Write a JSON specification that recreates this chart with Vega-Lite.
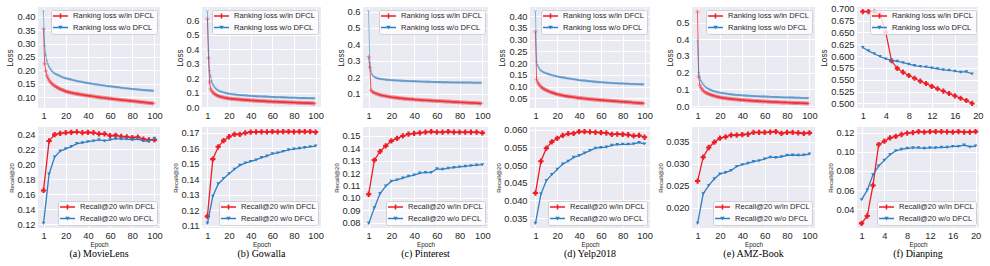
{
"$schema":"https://vega.github.io/schema/vega-lite/v6.json",
"autosize":{"type":"pad"},
"padding":{"left":5,"top":4,"right":5,"bottom":3},
"background":"white",
"config":{
"view":{"fill":"#EAEAF2","stroke":null},
"axis":{"domain":false,"ticks":false,"grid":true,"gridColor":"#ffffff","gridWidth":1,"gridOpacity":1,"labelFont":"Liberation Sans","labelFontSize":9.3,"labelColor":"#262626","labelPadding":3,"labelOverlap":false,"labelBound":false,"titleFont":"Liberation Sans","titleFontWeight":"normal","titleColor":"#262626"},
"legend":{"labelFont":"Liberation Sans","labelFontSize":7.6,"labelColor":"#262626","fillColor":"rgba(255,255,255,0.8)","strokeColor":"#d0d0d0","cornerRadius":2,"padding":2,"rowPadding":3.5,"symbolStrokeWidth":0,"symbolSize":64,"labelOffset":12,"offset":3,"symbolOpacity":1},
"title":{"font":"Liberation Serif","fontSize":10,"fontWeight":"normal","color":"#000000","orient":"bottom","anchor":"middle","frame":"group","offset":1}
},
"datasets":{
"loss":[
{"x":0,"a1":0.355,"a2":0.420,"b1":0.612,"b2":0.662,"c1":0.325,"c2":0.600,"d1":0.335,"d2":0.420,"e1":0.566,"e2":0.390},
{"x":1,"a1":0.225,"a2":0.290,"b1":0.340,"b2":0.390,"c1":0.260,"c2":0.284,"d1":0.130,"d2":0.205,"e1":0.176,"e2":0.196},
{"x":2,"a1":0.197,"a2":0.255,"b1":0.173,"b2":0.247,"c1":0.120,"c2":0.235,"d1":0.118,"d2":0.190,"e1":0.124,"e2":0.165},
{"x":3,"a1":0.180,"a2":0.235,"b1":0.125,"b2":0.210,"c1":0.113,"c2":0.215,"d1":0.110,"d2":0.180,"e1":0.110,"e2":0.150},
{"x":4,"a1":0.170,"a2":0.222,"b1":0.110,"b2":0.175,"c1":0.108,"c2":0.205,"d1":0.104,"d2":0.172,"e1":0.100,"e2":0.138},
{"x":5,"a1":0.163,"a2":0.212,"b1":0.100,"b2":0.155,"c1":0.104,"c2":0.199,"d1":0.099,"d2":0.167,"e1":0.093,"e2":0.128},
{"x":6,"a1":0.157,"a2":0.205,"b1":0.094,"b2":0.142,"c1":0.101,"c2":0.196,"d1":0.095,"d2":0.164,"e1":0.087,"e2":0.120},
{"x":7,"a1":0.152,"a2":0.199,"b1":0.089,"b2":0.132,"c1":0.099,"c2":0.193,"d1":0.092,"d2":0.161,"e1":0.082,"e2":0.113},
{"x":8,"a1":0.148,"a2":0.194,"b1":0.084,"b2":0.124,"c1":0.096,"c2":0.191,"d1":0.089,"d2":0.159,"e1":0.078,"e2":0.108},
{"x":9,"a1":0.145,"a2":0.190,"b1":0.080,"b2":0.118,"c1":0.094,"c2":0.189,"d1":0.086,"d2":0.157,"e1":0.075,"e2":0.104},
{"x":10,"a1":0.142,"a2":0.187,"b1":0.077,"b2":0.113,"c1":0.092,"c2":0.188,"d1":0.084,"d2":0.155,"e1":0.072,"e2":0.100},
{"x":11,"a1":0.139,"a2":0.185,"b1":0.074,"b2":0.109,"c1":0.090,"c2":0.187,"d1":0.082,"d2":0.153,"e1":0.069,"e2":0.097},
{"x":12,"a1":0.137,"a2":0.183,"b1":0.072,"b2":0.106,"c1":0.089,"c2":0.186,"d1":0.080,"d2":0.152,"e1":0.067,"e2":0.094},
{"x":13,"a1":0.134,"a2":0.181,"b1":0.070,"b2":0.103,"c1":0.087,"c2":0.185,"d1":0.078,"d2":0.150,"e1":0.065,"e2":0.091},
{"x":14,"a1":0.132,"a2":0.179,"b1":0.068,"b2":0.101,"c1":0.086,"c2":0.184,"d1":0.076,"d2":0.149,"e1":0.063,"e2":0.089},
{"x":15,"a1":0.130,"a2":0.177,"b1":0.066,"b2":0.099,"c1":0.085,"c2":0.183,"d1":0.075,"d2":0.148,"e1":0.061,"e2":0.087},
{"x":16,"a1":0.128,"a2":0.175,"b1":0.064,"b2":0.097,"c1":0.083,"c2":0.182,"d1":0.073,"d2":0.146,"e1":0.059,"e2":0.085},
{"x":17,"a1":0.126,"a2":0.173,"b1":0.063,"b2":0.095,"c1":0.082,"c2":0.182,"d1":0.071,"d2":0.145,"e1":0.057,"e2":0.083},
{"x":18,"a1":0.125,"a2":0.172,"b1":0.061,"b2":0.093,"c1":0.081,"c2":0.181,"d1":0.070,"d2":0.144,"e1":0.055,"e2":0.081},
{"x":19,"a1":0.123,"a2":0.170,"b1":0.060,"b2":0.091,"c1":0.079,"c2":0.181,"d1":0.068,"d2":0.143,"e1":0.054,"e2":0.080},
{"x":20,"a1":0.121,"a2":0.169,"b1":0.059,"b2":0.090,"c1":0.078,"c2":0.180,"d1":0.067,"d2":0.142,"e1":0.052,"e2":0.078},
{"x":21,"a1":0.120,"a2":0.168,"b1":0.058,"b2":0.089,"c1":0.077,"c2":0.180,"d1":0.066,"d2":0.141,"e1":0.051,"e2":0.077},
{"x":22,"a1":0.119,"a2":0.167,"b1":0.057,"b2":0.088,"c1":0.076,"c2":0.179,"d1":0.065,"d2":0.140,"e1":0.050,"e2":0.076},
{"x":23,"a1":0.118,"a2":0.166,"b1":0.056,"b2":0.087,"c1":0.076,"c2":0.179,"d1":0.064,"d2":0.139,"e1":0.049,"e2":0.075},
{"x":24,"a1":0.117,"a2":0.165,"b1":0.056,"b2":0.086,"c1":0.075,"c2":0.178,"d1":0.063,"d2":0.138,"e1":0.048,"e2":0.074},
{"x":25,"a1":0.116,"a2":0.164,"b1":0.055,"b2":0.085,"c1":0.074,"c2":0.178,"d1":0.062,"d2":0.137,"e1":0.047,"e2":0.073},
{"x":26,"a1":0.115,"a2":0.163,"b1":0.054,"b2":0.084,"c1":0.073,"c2":0.178,"d1":0.061,"d2":0.137,"e1":0.046,"e2":0.072},
{"x":27,"a1":0.114,"a2":0.162,"b1":0.054,"b2":0.083,"c1":0.072,"c2":0.177,"d1":0.060,"d2":0.136,"e1":0.045,"e2":0.071},
{"x":28,"a1":0.113,"a2":0.161,"b1":0.053,"b2":0.082,"c1":0.071,"c2":0.177,"d1":0.059,"d2":0.135,"e1":0.044,"e2":0.070},
{"x":29,"a1":0.1125,"a2":0.160,"b1":0.052,"b2":0.082,"c1":0.071,"c2":0.176,"d1":0.059,"d2":0.134,"e1":0.044,"e2":0.069},
{"x":30,"a1":0.112,"a2":0.159,"b1":0.052,"b2":0.081,"c1":0.070,"c2":0.176,"d1":0.058,"d2":0.133,"e1":0.043,"e2":0.068},
{"x":31,"a1":0.111,"a2":0.158,"b1":0.051,"b2":0.080,"c1":0.069,"c2":0.176,"d1":0.057,"d2":0.133,"e1":0.042,"e2":0.067},
{"x":32,"a1":0.110,"a2":0.157,"b1":0.051,"b2":0.080,"c1":0.069,"c2":0.175,"d1":0.056,"d2":0.132,"e1":0.041,"e2":0.067},
{"x":33,"a1":0.1095,"a2":0.156,"b1":0.050,"b2":0.079,"c1":0.068,"c2":0.175,"d1":0.056,"d2":0.131,"e1":0.041,"e2":0.066},
{"x":34,"a1":0.109,"a2":0.156,"b1":0.049,"b2":0.078,"c1":0.067,"c2":0.175,"d1":0.055,"d2":0.131,"e1":0.040,"e2":0.065},
{"x":35,"a1":0.108,"a2":0.155,"b1":0.049,"b2":0.078,"c1":0.067,"c2":0.175,"d1":0.054,"d2":0.130,"e1":0.039,"e2":0.065},
{"x":36,"a1":0.1075,"a2":0.154,"b1":0.048,"b2":0.077,"c1":0.066,"c2":0.174,"d1":0.054,"d2":0.129,"e1":0.039,"e2":0.064},
{"x":37,"a1":0.107,"a2":0.153,"b1":0.048,"b2":0.077,"c1":0.066,"c2":0.174,"d1":0.053,"d2":0.129,"e1":0.038,"e2":0.064},
{"x":38,"a1":0.106,"a2":0.152,"b1":0.047,"b2":0.076,"c1":0.065,"c2":0.174,"d1":0.052,"d2":0.128,"e1":0.037,"e2":0.063},
{"x":39,"a1":0.1055,"a2":0.152,"b1":0.047,"b2":0.076,"c1":0.065,"c2":0.173,"d1":0.052,"d2":0.127,"e1":0.037,"e2":0.063},
{"x":40,"a1":0.105,"a2":0.151,"b1":0.046,"b2":0.075,"c1":0.064,"c2":0.173,"d1":0.051,"d2":0.126,"e1":0.036,"e2":0.062},
{"x":41,"a1":0.1045,"a2":0.150,"b1":0.046,"b2":0.075,"c1":0.063,"c2":0.173,"d1":0.051,"d2":0.126,"e1":0.036,"e2":0.062},
{"x":42,"a1":0.104,"a2":0.150,"b1":0.045,"b2":0.074,"c1":0.063,"c2":0.173,"d1":0.050,"d2":0.125,"e1":0.035,"e2":0.061},
{"x":43,"a1":0.1035,"a2":0.149,"b1":0.045,"b2":0.074,"c1":0.062,"c2":0.172,"d1":0.050,"d2":0.125,"e1":0.035,"e2":0.061},
{"x":44,"a1":0.103,"a2":0.148,"b1":0.044,"b2":0.073,"c1":0.062,"c2":0.172,"d1":0.049,"d2":0.124,"e1":0.034,"e2":0.060},
{"x":45,"a1":0.102,"a2":0.148,"b1":0.044,"b2":0.073,"c1":0.061,"c2":0.172,"d1":0.049,"d2":0.124,"e1":0.034,"e2":0.060},
{"x":46,"a1":0.1015,"a2":0.147,"b1":0.043,"b2":0.072,"c1":0.061,"c2":0.171,"d1":0.048,"d2":0.123,"e1":0.033,"e2":0.060},
{"x":47,"a1":0.101,"a2":0.146,"b1":0.043,"b2":0.072,"c1":0.060,"c2":0.171,"d1":0.048,"d2":0.123,"e1":0.033,"e2":0.059},
{"x":48,"a1":0.100,"a2":0.146,"b1":0.042,"b2":0.072,"c1":0.060,"c2":0.171,"d1":0.047,"d2":0.122,"e1":0.032,"e2":0.059},
{"x":49,"a1":0.0995,"a2":0.145,"b1":0.042,"b2":0.071,"c1":0.059,"c2":0.171,"d1":0.047,"d2":0.122,"e1":0.032,"e2":0.058},
{"x":50,"a1":0.099,"a2":0.145,"b1":0.041,"b2":0.071,"c1":0.059,"c2":0.170,"d1":0.046,"d2":0.121,"e1":0.031,"e2":0.058},
{"x":51,"a1":0.0985,"a2":0.144,"b1":0.041,"b2":0.071,"c1":0.059,"c2":0.170,"d1":0.046,"d2":0.121,"e1":0.031,"e2":0.058},
{"x":52,"a1":0.098,"a2":0.143,"b1":0.041,"b2":0.070,"c1":0.058,"c2":0.170,"d1":0.046,"d2":0.120,"e1":0.031,"e2":0.057},
{"x":53,"a1":0.0975,"a2":0.143,"b1":0.040,"b2":0.070,"c1":0.058,"c2":0.170,"d1":0.045,"d2":0.120,"e1":0.030,"e2":0.057},
{"x":54,"a1":0.097,"a2":0.142,"b1":0.040,"b2":0.070,"c1":0.057,"c2":0.170,"d1":0.045,"d2":0.119,"e1":0.030,"e2":0.057},
{"x":55,"a1":0.0965,"a2":0.142,"b1":0.039,"b2":0.069,"c1":0.057,"c2":0.169,"d1":0.044,"d2":0.119,"e1":0.029,"e2":0.056},
{"x":56,"a1":0.096,"a2":0.141,"b1":0.039,"b2":0.069,"c1":0.056,"c2":0.169,"d1":0.044,"d2":0.119,"e1":0.029,"e2":0.056},
{"x":57,"a1":0.0955,"a2":0.140,"b1":0.038,"b2":0.069,"c1":0.056,"c2":0.169,"d1":0.044,"d2":0.118,"e1":0.029,"e2":0.056},
{"x":58,"a1":0.095,"a2":0.140,"b1":0.038,"b2":0.068,"c1":0.056,"c2":0.169,"d1":0.043,"d2":0.118,"e1":0.028,"e2":0.055},
{"x":59,"a1":0.0945,"a2":0.139,"b1":0.038,"b2":0.068,"c1":0.055,"c2":0.168,"d1":0.043,"d2":0.117,"e1":0.028,"e2":0.055},
{"x":60,"a1":0.094,"a2":0.139,"b1":0.037,"b2":0.068,"c1":0.055,"c2":0.168,"d1":0.042,"d2":0.117,"e1":0.027,"e2":0.055},
{"x":61,"a1":0.0935,"a2":0.138,"b1":0.037,"b2":0.067,"c1":0.055,"c2":0.168,"d1":0.042,"d2":0.117,"e1":0.027,"e2":0.055},
{"x":62,"a1":0.093,"a2":0.138,"b1":0.037,"b2":0.067,"c1":0.054,"c2":0.168,"d1":0.042,"d2":0.116,"e1":0.027,"e2":0.054},
{"x":63,"a1":0.0925,"a2":0.137,"b1":0.036,"b2":0.067,"c1":0.054,"c2":0.168,"d1":0.041,"d2":0.116,"e1":0.026,"e2":0.054},
{"x":64,"a1":0.092,"a2":0.137,"b1":0.036,"b2":0.066,"c1":0.053,"c2":0.168,"d1":0.041,"d2":0.116,"e1":0.026,"e2":0.054},
{"x":65,"a1":0.0915,"a2":0.136,"b1":0.036,"b2":0.066,"c1":0.053,"c2":0.167,"d1":0.040,"d2":0.115,"e1":0.026,"e2":0.053},
{"x":66,"a1":0.091,"a2":0.136,"b1":0.035,"b2":0.066,"c1":0.053,"c2":0.167,"d1":0.040,"d2":0.115,"e1":0.025,"e2":0.053},
{"x":67,"a1":0.0905,"a2":0.135,"b1":0.035,"b2":0.066,"c1":0.052,"c2":0.167,"d1":0.040,"d2":0.115,"e1":0.025,"e2":0.053},
{"x":68,"a1":0.090,"a2":0.135,"b1":0.035,"b2":0.065,"c1":0.052,"c2":0.167,"d1":0.039,"d2":0.114,"e1":0.025,"e2":0.053},
{"x":69,"a1":0.0895,"a2":0.134,"b1":0.034,"b2":0.065,"c1":0.051,"c2":0.167,"d1":0.039,"d2":0.114,"e1":0.024,"e2":0.052},
{"x":70,"a1":0.089,"a2":0.134,"b1":0.034,"b2":0.065,"c1":0.051,"c2":0.167,"d1":0.038,"d2":0.114,"e1":0.024,"e2":0.052},
{"x":71,"a1":0.0886,"a2":0.133,"b1":0.034,"b2":0.064,"c1":0.051,"c2":0.167,"d1":0.038,"d2":0.114,"e1":0.024,"e2":0.052},
{"x":72,"a1":0.0882,"a2":0.133,"b1":0.033,"b2":0.064,"c1":0.050,"c2":0.166,"d1":0.038,"d2":0.113,"e1":0.023,"e2":0.052},
{"x":73,"a1":0.0878,"a2":0.132,"b1":0.033,"b2":0.064,"c1":0.050,"c2":0.166,"d1":0.037,"d2":0.113,"e1":0.023,"e2":0.051},
{"x":74,"a1":0.0874,"a2":0.132,"b1":0.033,"b2":0.064,"c1":0.049,"c2":0.166,"d1":0.037,"d2":0.113,"e1":0.023,"e2":0.051},
{"x":75,"a1":0.087,"a2":0.131,"b1":0.032,"b2":0.063,"c1":0.049,"c2":0.166,"d1":0.037,"d2":0.113,"e1":0.022,"e2":0.051},
{"x":76,"a1":0.0866,"a2":0.131,"b1":0.032,"b2":0.063,"c1":0.049,"c2":0.166,"d1":0.036,"d2":0.112,"e1":0.022,"e2":0.051},
{"x":77,"a1":0.0862,"a2":0.130,"b1":0.032,"b2":0.063,"c1":0.048,"c2":0.166,"d1":0.036,"d2":0.112,"e1":0.022,"e2":0.050},
{"x":78,"a1":0.0858,"a2":0.130,"b1":0.031,"b2":0.063,"c1":0.048,"c2":0.166,"d1":0.036,"d2":0.112,"e1":0.022,"e2":0.050},
{"x":79,"a1":0.0854,"a2":0.129,"b1":0.031,"b2":0.062,"c1":0.047,"c2":0.166,"d1":0.035,"d2":0.112,"e1":0.021,"e2":0.050},
{"x":80,"a1":0.085,"a2":0.129,"b1":0.031,"b2":0.062,"c1":0.047,"c2":0.166,"d1":0.035,"d2":0.112,"e1":0.021,"e2":0.050},
{"x":81,"a1":0.0845,"a2":0.129,"b1":0.031,"b2":0.062,"c1":0.047,"c2":0.165,"d1":0.035,"d2":0.111,"e1":0.021,"e2":0.050},
{"x":82,"a1":0.084,"a2":0.128,"b1":0.030,"b2":0.062,"c1":0.046,"c2":0.165,"d1":0.034,"d2":0.111,"e1":0.020,"e2":0.049},
{"x":83,"a1":0.0835,"a2":0.128,"b1":0.030,"b2":0.061,"c1":0.046,"c2":0.165,"d1":0.034,"d2":0.111,"e1":0.020,"e2":0.049},
{"x":84,"a1":0.083,"a2":0.127,"b1":0.030,"b2":0.061,"c1":0.046,"c2":0.165,"d1":0.034,"d2":0.111,"e1":0.020,"e2":0.049},
{"x":85,"a1":0.0825,"a2":0.127,"b1":0.029,"b2":0.061,"c1":0.045,"c2":0.165,"d1":0.033,"d2":0.111,"e1":0.020,"e2":0.049},
{"x":86,"a1":0.082,"a2":0.126,"b1":0.029,"b2":0.061,"c1":0.045,"c2":0.165,"d1":0.033,"d2":0.110,"e1":0.019,"e2":0.049},
{"x":87,"a1":0.0815,"a2":0.126,"b1":0.029,"b2":0.060,"c1":0.044,"c2":0.165,"d1":0.033,"d2":0.110,"e1":0.019,"e2":0.048},
{"x":88,"a1":0.081,"a2":0.126,"b1":0.028,"b2":0.060,"c1":0.044,"c2":0.165,"d1":0.032,"d2":0.110,"e1":0.019,"e2":0.048},
{"x":89,"a1":0.0805,"a2":0.125,"b1":0.028,"b2":0.060,"c1":0.044,"c2":0.165,"d1":0.032,"d2":0.110,"e1":0.018,"e2":0.048},
{"x":90,"a1":0.080,"a2":0.125,"b1":0.028,"b2":0.060,"c1":0.043,"c2":0.165,"d1":0.031,"d2":0.110,"e1":0.018,"e2":0.048},
{"x":91,"a1":0.0796,"a2":0.125,"b1":0.028,"b2":0.060,"c1":0.043,"c2":0.164,"d1":0.031,"d2":0.109,"e1":0.018,"e2":0.048},
{"x":92,"a1":0.0792,"a2":0.124,"b1":0.027,"b2":0.059,"c1":0.043,"c2":0.164,"d1":0.031,"d2":0.109,"e1":0.018,"e2":0.047},
{"x":93,"a1":0.0787,"a2":0.124,"b1":0.027,"b2":0.059,"c1":0.042,"c2":0.164,"d1":0.030,"d2":0.109,"e1":0.017,"e2":0.047},
{"x":94,"a1":0.0783,"a2":0.124,"b1":0.027,"b2":0.059,"c1":0.042,"c2":0.164,"d1":0.030,"d2":0.109,"e1":0.017,"e2":0.047},
{"x":95,"a1":0.0778,"a2":0.123,"b1":0.026,"b2":0.059,"c1":0.041,"c2":0.164,"d1":0.030,"d2":0.109,"e1":0.017,"e2":0.047},
{"x":96,"a1":0.0774,"a2":0.123,"b1":0.026,"b2":0.058,"c1":0.041,"c2":0.164,"d1":0.029,"d2":0.108,"e1":0.017,"e2":0.047},
{"x":97,"a1":0.077,"a2":0.123,"b1":0.026,"b2":0.058,"c1":0.041,"c2":0.164,"d1":0.029,"d2":0.108,"e1":0.016,"e2":0.046},
{"x":98,"a1":0.0765,"a2":0.122,"b1":0.025,"b2":0.058,"c1":0.040,"c2":0.164,"d1":0.029,"d2":0.108,"e1":0.016,"e2":0.046},
{"x":99,"a1":0.076,"a2":0.122,"b1":0.025,"b2":0.058,"c1":0.040,"c2":0.164,"d1":0.028,"d2":0.108,"e1":0.016,"e2":0.046}
],
"dloss":[
{"x":0,"f1":0.694,"f2":0.618},{"x":1,"f1":0.694,"f2":0.611},{"x":2,"f1":0.693,"f2":0.605},{"x":3,"f1":0.688,"f2":0.599},{"x":4,"f1":0.650,"f2":0.594},
{"x":5,"f1":0.590,"f2":0.591},{"x":6,"f1":0.574,"f2":0.589},{"x":7,"f1":0.566,"f2":0.586},{"x":8,"f1":0.559,"f2":0.583},{"x":9,"f1":0.553,"f2":0.580},
{"x":10,"f1":0.547,"f2":0.578},{"x":11,"f1":0.542,"f2":0.577},{"x":12,"f1":0.536,"f2":0.575},{"x":13,"f1":0.531,"f2":0.573},{"x":14,"f1":0.526,"f2":0.571},
{"x":15,"f1":0.521,"f2":0.570},{"x":16,"f1":0.516,"f2":0.568},{"x":17,"f1":0.511,"f2":0.566},{"x":18,"f1":0.506,"f2":0.567},{"x":19,"f1":0.500,"f2":0.562}
],
"rec":[
{"x":0,"a1":0.165,"a2":0.121,"b1":0.116,"b2":0.1115,"c1":0.103,"c2":0.0795,"d1":0.0421,"d2":0.0335,"e1":0.0261,"e2":0.0165},
{"x":5,"a1":0.231,"a2":0.187,"b1":0.153,"b2":0.129,"c1":0.1305,"c2":0.092,"d1":0.0511,"d2":0.0418,"e1":0.0315,"e2":0.0232},
{"x":10,"a1":0.2395,"a2":0.2095,"b1":0.161,"b2":0.137,"c1":0.1375,"c2":0.1035,"d1":0.0548,"d2":0.0456,"e1":0.0337,"e2":0.0251},
{"x":15,"a1":0.241,"a2":0.2175,"b1":0.165,"b2":0.1405,"c1":0.142,"c2":0.1095,"d1":0.0566,"d2":0.0473,"e1":0.0349,"e2":0.0266},
{"x":20,"a1":0.242,"a2":0.2205,"b1":0.1675,"b2":0.1435,"c1":0.146,"c2":0.1135,"d1":0.0576,"d2":0.0488,"e1":0.0358,"e2":0.0277},
{"x":25,"a1":0.2425,"a2":0.2235,"b1":0.169,"b2":0.1465,"c1":0.148,"c2":0.1145,"d1":0.0584,"d2":0.0503,"e1":0.0361,"e2":0.0280},
{"x":30,"a1":0.243,"a2":0.2275,"b1":0.169,"b2":0.149,"c1":0.150,"c2":0.116,"d1":0.0589,"d2":0.0511,"e1":0.0365,"e2":0.0285},
{"x":35,"a1":0.242,"a2":0.2285,"b1":0.170,"b2":0.1505,"c1":0.1515,"c2":0.1175,"d1":0.0590,"d2":0.0522,"e1":0.0365,"e2":0.0294},
{"x":40,"a1":0.2425,"a2":0.230,"b1":0.1705,"b2":0.1515,"c1":0.152,"c2":0.1185,"d1":0.0595,"d2":0.0527,"e1":0.0366,"e2":0.0298},
{"x":45,"a1":0.242,"a2":0.231,"b1":0.1706,"b2":0.1525,"c1":0.1525,"c2":0.120,"d1":0.0595,"d2":0.0534,"e1":0.0367,"e2":0.0301},
{"x":50,"a1":0.2405,"a2":0.2325,"b1":0.1707,"b2":0.154,"c1":0.153,"c2":0.1205,"d1":0.0594,"d2":0.0541,"e1":0.0371,"e2":0.0305},
{"x":55,"a1":0.2405,"a2":0.231,"b1":0.1706,"b2":0.155,"c1":0.1535,"c2":0.1205,"d1":0.0593,"d2":0.0548,"e1":0.0371,"e2":0.0307},
{"x":60,"a1":0.238,"a2":0.2325,"b1":0.1708,"b2":0.1565,"c1":0.153,"c2":0.1235,"d1":0.0592,"d2":0.0550,"e1":0.0371,"e2":0.0311},
{"x":65,"a1":0.2385,"a2":0.234,"b1":0.1707,"b2":0.157,"c1":0.153,"c2":0.123,"d1":0.0591,"d2":0.0551,"e1":0.0372,"e2":0.0315},
{"x":70,"a1":0.237,"a2":0.2335,"b1":0.1708,"b2":0.158,"c1":0.1535,"c2":0.124,"d1":0.0587,"d2":0.0556,"e1":0.0373,"e2":0.0314},
{"x":75,"a1":0.2365,"a2":0.2335,"b1":0.1708,"b2":0.159,"c1":0.153,"c2":0.1245,"d1":0.0588,"d2":0.0558,"e1":0.0369,"e2":0.0316},
{"x":80,"a1":0.2355,"a2":0.2325,"b1":0.1707,"b2":0.1595,"c1":0.153,"c2":0.125,"d1":0.0587,"d2":0.0559,"e1":0.0371,"e2":0.0319},
{"x":85,"a1":0.236,"a2":0.2335,"b1":0.1708,"b2":0.160,"c1":0.153,"c2":0.1255,"d1":0.0586,"d2":0.0559,"e1":0.0371,"e2":0.0320},
{"x":90,"a1":0.2335,"a2":0.231,"b1":0.1708,"b2":0.1605,"c1":0.153,"c2":0.126,"d1":0.0583,"d2":0.0560,"e1":0.0370,"e2":0.0319},
{"x":95,"a1":0.2325,"a2":0.2305,"b1":0.1708,"b2":0.161,"c1":0.153,"c2":0.1265,"d1":0.0584,"d2":0.0564,"e1":0.0369,"e2":0.0320},
{"x":100,"a1":0.2325,"a2":0.2345,"b1":0.1705,"b2":0.1615,"c1":0.1525,"c2":0.1268,"d1":0.0579,"d2":0.0560,"e1":0.0370,"e2":0.0322}
],
"drec":[
{"x":0,"f1":0.0253,"f2":0.050},{"x":1,"f1":0.033,"f2":0.060},{"x":2,"f1":0.065,"f2":0.076},{"x":3,"f1":0.1075,"f2":0.085},{"x":4,"f1":0.111,"f2":0.091},
{"x":5,"f1":0.1145,"f2":0.097},{"x":6,"f1":0.116,"f2":0.101},{"x":7,"f1":0.118,"f2":0.1025},{"x":8,"f1":0.1195,"f2":0.1035},{"x":9,"f1":0.120,"f2":0.104},
{"x":10,"f1":0.121,"f2":0.104},{"x":11,"f1":0.1205,"f2":0.1035},{"x":12,"f1":0.121,"f2":0.104},{"x":13,"f1":0.121,"f2":0.104},{"x":14,"f1":0.121,"f2":0.1045},
{"x":15,"f1":0.1208,"f2":0.1045},{"x":16,"f1":0.1205,"f2":0.1055},{"x":17,"f1":0.121,"f2":0.1055},{"x":18,"f1":0.1205,"f2":0.107},{"x":19,"f1":0.1205,"f2":0.105},
{"x":20,"f1":0.121,"f2":0.106}
]
},
"columns":6,
"bounds":"flush",
"align":"each",
"spacing":{"row":19,"column":42},
"resolve":{"scale":{"color":"independent","shape":"independent"},"legend":{"color":"independent","shape":"independent"}},
"concat":[
{"width":122,"height":101,"data":{"name":"loss"},"transform":[{"fold":["a1","a2"],"as":["k","v"]}],
"encoding":{"x":{"field":"x","type":"quantitative","scale":{"domain":[-5,105],"nice":false,"zero":false},"axis":{"values":[0,20,40,60,80,100],"labelExpr":"datum.value==0?'1':datum.label","title":null}},
"y":{"field":"v","type":"quantitative","scale":{"domain":[0.0588,0.4372],"nice":false,"zero":false},"axis":{"values":[0.10,0.15,0.20,0.25,0.30,0.35,0.40],"format":".2f","title":"Loss","titleFontSize":8.3,"titlePadding":2}}},
"layer":[
{"transform":[{"filter":"datum.k=='a1'"}],"mark":{"type":"line","color":"#ee1c25","strokeWidth":1,"opacity":0.75,"clip":true}},
{"transform":[{"filter":"datum.k=='a1'"}],"mark":{"type":"point","shape":"cross","filled":true,"color":"#ee1c25","size":16,"opacity":0.35,"strokeWidth":0,"clip":true}},
{"transform":[{"filter":"datum.k=='a2'"}],"mark":{"type":"line","color":"#2f7fc1","strokeWidth":1,"opacity":0.6,"clip":true}},
{"transform":[{"filter":"datum.k=='a2'"}],"mark":{"type":"point","shape":"triangle-down","filled":true,"color":"#2f7fc1","size":9,"opacity":0.4,"strokeWidth":0,"clip":true}},
{"transform":[{"filter":"false"}],"mark":{"type":"point","filled":true,"opacity":1},
"encoding":{"color":{"field":"k","type":"nominal","scale":{"domain":["a1","a2"],"range":["#ee1c25","#2f7fc1"]},"legend":{"orient":"top-right","title":null,"labelExpr":"indexof(datum.value,'1')>0?'Ranking loss w/in DFCL':'Ranking loss w/o DFCL'"}},
"shape":{"field":"k","type":"nominal","scale":{"domain":["a1","a2"],"range":["M-1,-0.16H2.75V0.16H-1Z M0.675,-0.6H1.075V-0.2H1.475V0.2H1.075V0.6H0.675V0.2H0.275V-0.2H0.675Z","M-1,-0.16H2.75V0.16H-1Z M0.325,-0.45H1.425L0.875,0.5Z"]},"legend":{"orient":"top-right","title":null,"labelExpr":"indexof(datum.value,'1')>0?'Ranking loss w/in DFCL':'Ranking loss w/o DFCL'"}}}}
]},
{"width":119,"height":101,"data":{"name":"loss"},"transform":[{"fold":["b1","b2"],"as":["k","v"]}],
"encoding":{"x":{"field":"x","type":"quantitative","scale":{"domain":[-5,105],"nice":false,"zero":false},"axis":{"values":[0,20,40,60,80,100],"labelExpr":"datum.value==0?'1':datum.label","title":null}},
"y":{"field":"v","type":"quantitative","scale":{"domain":[-0.0069,0.6939],"nice":false,"zero":false},"axis":{"values":[0,0.1,0.2,0.3,0.4,0.5,0.6],"format":".1f","title":"Loss","titleFontSize":8.3,"titlePadding":2}}},
"layer":[
{"transform":[{"filter":"datum.k=='b1'"}],"mark":{"type":"line","color":"#ee1c25","strokeWidth":1,"opacity":0.75,"clip":true}},
{"transform":[{"filter":"datum.k=='b1'"}],"mark":{"type":"point","shape":"cross","filled":true,"color":"#ee1c25","size":16,"opacity":0.35,"strokeWidth":0,"clip":true}},
{"transform":[{"filter":"datum.k=='b2'"}],"mark":{"type":"line","color":"#2f7fc1","strokeWidth":1,"opacity":0.6,"clip":true}},
{"transform":[{"filter":"datum.k=='b2'"}],"mark":{"type":"point","shape":"triangle-down","filled":true,"color":"#2f7fc1","size":9,"opacity":0.4,"strokeWidth":0,"clip":true}},
{"transform":[{"filter":"false"}],"mark":{"type":"point","filled":true,"opacity":1},
"encoding":{"color":{"field":"k","type":"nominal","scale":{"domain":["b1","b2"],"range":["#ee1c25","#2f7fc1"]},"legend":{"orient":"top-right","title":null,"labelExpr":"indexof(datum.value,'1')>0?'Ranking loss w/in DFCL':'Ranking loss w/o DFCL'"}},
"shape":{"field":"k","type":"nominal","scale":{"domain":["b1","b2"],"range":["M-1,-0.16H2.75V0.16H-1Z M0.675,-0.6H1.075V-0.2H1.475V0.2H1.075V0.6H0.675V0.2H0.275V-0.2H0.675Z","M-1,-0.16H2.75V0.16H-1Z M0.325,-0.45H1.425L0.875,0.5Z"]},"legend":{"orient":"top-right","title":null,"labelExpr":"indexof(datum.value,'1')>0?'Ranking loss w/in DFCL':'Ranking loss w/o DFCL'"}}}}
]},
{"width":125,"height":101,"data":{"name":"loss"},"transform":[{"fold":["c1","c2"],"as":["k","v"]}],
"encoding":{"x":{"field":"x","type":"quantitative","scale":{"domain":[-5,105],"nice":false,"zero":false},"axis":{"values":[0,20,40,60,80,100],"labelExpr":"datum.value==0?'1':datum.label","title":null}},
"y":{"field":"v","type":"quantitative","scale":{"domain":[0.012,0.628],"nice":false,"zero":false},"axis":{"values":[0.1,0.2,0.3,0.4,0.5,0.6],"format":".1f","title":"Loss","titleFontSize":8.3,"titlePadding":2}}},
"layer":[
{"transform":[{"filter":"datum.k=='c1'"}],"mark":{"type":"line","color":"#ee1c25","strokeWidth":1,"opacity":0.75,"clip":true}},
{"transform":[{"filter":"datum.k=='c1'"}],"mark":{"type":"point","shape":"cross","filled":true,"color":"#ee1c25","size":16,"opacity":0.35,"strokeWidth":0,"clip":true}},
{"transform":[{"filter":"datum.k=='c2'"}],"mark":{"type":"line","color":"#2f7fc1","strokeWidth":1,"opacity":0.6,"clip":true}},
{"transform":[{"filter":"datum.k=='c2'"}],"mark":{"type":"point","shape":"triangle-down","filled":true,"color":"#2f7fc1","size":9,"opacity":0.4,"strokeWidth":0,"clip":true}},
{"transform":[{"filter":"false"}],"mark":{"type":"point","filled":true,"opacity":1},
"encoding":{"color":{"field":"k","type":"nominal","scale":{"domain":["c1","c2"],"range":["#ee1c25","#2f7fc1"]},"legend":{"orient":"top-right","title":null,"labelExpr":"indexof(datum.value,'1')>0?'Ranking loss w/in DFCL':'Ranking loss w/o DFCL'"}},
"shape":{"field":"k","type":"nominal","scale":{"domain":["c1","c2"],"range":["M-1,-0.16H2.75V0.16H-1Z M0.675,-0.6H1.075V-0.2H1.475V0.2H1.075V0.6H0.675V0.2H0.275V-0.2H0.675Z","M-1,-0.16H2.75V0.16H-1Z M0.325,-0.45H1.425L0.875,0.5Z"]},"legend":{"orient":"top-right","title":null,"labelExpr":"indexof(datum.value,'1')>0?'Ranking loss w/in DFCL':'Ranking loss w/o DFCL'"}}}}
]},
{"width":120,"height":101,"data":{"name":"loss"},"transform":[{"fold":["d1","d2"],"as":["k","v"]}],
"encoding":{"x":{"field":"x","type":"quantitative","scale":{"domain":[-5,105],"nice":false,"zero":false},"axis":{"values":[0,20,40,60,80,100],"labelExpr":"datum.value==0?'1':datum.label","title":null}},
"y":{"field":"v","type":"quantitative","scale":{"domain":[0.0084,0.4396],"nice":false,"zero":false},"axis":{"values":[0.05,0.10,0.15,0.20,0.25,0.30,0.35,0.40],"format":".2f","title":"Loss","titleFontSize":8.3,"titlePadding":2}}},
"layer":[
{"transform":[{"filter":"datum.k=='d1'"}],"mark":{"type":"line","color":"#ee1c25","strokeWidth":1,"opacity":0.75,"clip":true}},
{"transform":[{"filter":"datum.k=='d1'"}],"mark":{"type":"point","shape":"cross","filled":true,"color":"#ee1c25","size":16,"opacity":0.35,"strokeWidth":0,"clip":true}},
{"transform":[{"filter":"datum.k=='d2'"}],"mark":{"type":"line","color":"#2f7fc1","strokeWidth":1,"opacity":0.6,"clip":true}},
{"transform":[{"filter":"datum.k=='d2'"}],"mark":{"type":"point","shape":"triangle-down","filled":true,"color":"#2f7fc1","size":9,"opacity":0.4,"strokeWidth":0,"clip":true}},
{"transform":[{"filter":"false"}],"mark":{"type":"point","filled":true,"opacity":1},
"encoding":{"color":{"field":"k","type":"nominal","scale":{"domain":["d1","d2"],"range":["#ee1c25","#2f7fc1"]},"legend":{"orient":"top-right","title":null,"labelExpr":"indexof(datum.value,'1')>0?'Ranking loss w/in DFCL':'Ranking loss w/o DFCL'"}},
"shape":{"field":"k","type":"nominal","scale":{"domain":["d1","d2"],"range":["M-1,-0.16H2.75V0.16H-1Z M0.675,-0.6H1.075V-0.2H1.475V0.2H1.075V0.6H0.675V0.2H0.275V-0.2H0.675Z","M-1,-0.16H2.75V0.16H-1Z M0.325,-0.45H1.425L0.875,0.5Z"]},"legend":{"orient":"top-right","title":null,"labelExpr":"indexof(datum.value,'1')>0?'Ranking loss w/in DFCL':'Ranking loss w/o DFCL'"}}}}
]},
{"width":123,"height":101,"data":{"name":"loss"},"transform":[{"fold":["e1","e2"],"as":["k","v"]}],
"encoding":{"x":{"field":"x","type":"quantitative","scale":{"domain":[-5,105],"nice":false,"zero":false},"axis":{"values":[0,20,40,60,80,100],"labelExpr":"datum.value==0?'1':datum.label","title":null}},
"y":{"field":"v","type":"quantitative","scale":{"domain":[-0.0115,0.5935],"nice":false,"zero":false},"axis":{"values":[0,0.1,0.2,0.3,0.4,0.5],"format":".1f","title":"Loss","titleFontSize":8.3,"titlePadding":2}}},
"layer":[
{"transform":[{"filter":"datum.k=='e1'"}],"mark":{"type":"line","color":"#ee1c25","strokeWidth":1,"opacity":0.75,"clip":true}},
{"transform":[{"filter":"datum.k=='e1'"}],"mark":{"type":"point","shape":"cross","filled":true,"color":"#ee1c25","size":16,"opacity":0.35,"strokeWidth":0,"clip":true}},
{"transform":[{"filter":"datum.k=='e2'"}],"mark":{"type":"line","color":"#2f7fc1","strokeWidth":1,"opacity":0.6,"clip":true}},
{"transform":[{"filter":"datum.k=='e2'"}],"mark":{"type":"point","shape":"triangle-down","filled":true,"color":"#2f7fc1","size":9,"opacity":0.4,"strokeWidth":0,"clip":true}},
{"transform":[{"filter":"false"}],"mark":{"type":"point","filled":true,"opacity":1},
"encoding":{"color":{"field":"k","type":"nominal","scale":{"domain":["e1","e2"],"range":["#ee1c25","#2f7fc1"]},"legend":{"orient":"top-right","title":null,"labelExpr":"indexof(datum.value,'1')>0?'Ranking loss w/in DFCL':'Ranking loss w/o DFCL'"}},
"shape":{"field":"k","type":"nominal","scale":{"domain":["e1","e2"],"range":["M-1,-0.16H2.75V0.16H-1Z M0.675,-0.6H1.075V-0.2H1.475V0.2H1.075V0.6H0.675V0.2H0.275V-0.2H0.675Z","M-1,-0.16H2.75V0.16H-1Z M0.325,-0.45H1.425L0.875,0.5Z"]},"legend":{"orient":"top-right","title":null,"labelExpr":"indexof(datum.value,'1')>0?'Ranking loss w/in DFCL':'Ranking loss w/o DFCL'"}}}}
]},
{"width":122,"height":101,"data":{"name":"dloss"},"transform":[{"fold":["f1","f2"],"as":["k","v"]}],
"encoding":{"x":{"field":"x","type":"quantitative","scale":{"domain":[-1,20.2],"nice":false,"zero":false},"axis":{"values":[0,4,8,12,16,20],"labelExpr":"datum.value==0?'1':datum.label","title":null}},
"y":{"field":"v","type":"quantitative","scale":{"domain":[0.4903,0.7037],"nice":false,"zero":false},"axis":{"values":[0.5,0.525,0.55,0.575,0.6,0.625,0.65,0.675,0.7],"format":".3f","title":"Loss","titleFontSize":8.3,"titlePadding":2}}},
"layer":[
{"transform":[{"filter":"datum.k=='f1'"}],"mark":{"type":"line","color":"#ee1c25","strokeWidth":1.2,"clip":true}},
{"transform":[{"filter":"datum.k=='f1'"}],"mark":{"type":"point","shape":"cross","filled":true,"color":"#ee1c25","size":26,"opacity":1,"strokeWidth":0,"clip":true}},
{"transform":[{"filter":"datum.k=='f2'"}],"mark":{"type":"line","color":"#2f7fc1","strokeWidth":1.2,"clip":true}},
{"transform":[{"filter":"datum.k=='f2'"}],"mark":{"type":"point","shape":"triangle-down","filled":true,"color":"#2f7fc1","size":12,"opacity":1,"strokeWidth":0,"clip":true}},
{"transform":[{"filter":"false"}],"mark":{"type":"point","filled":true,"opacity":1},
"encoding":{"color":{"field":"k","type":"nominal","scale":{"domain":["f1","f2"],"range":["#ee1c25","#2f7fc1"]},"legend":{"orient":"top-right","title":null,"labelExpr":"indexof(datum.value,'1')>0?'Ranking loss w/in DFCL':'Ranking loss w/o DFCL'"}},
"shape":{"field":"k","type":"nominal","scale":{"domain":["f1","f2"],"range":["M-1,-0.16H2.75V0.16H-1Z M0.675,-0.6H1.075V-0.2H1.475V0.2H1.075V0.6H0.675V0.2H0.275V-0.2H0.675Z","M-1,-0.16H2.75V0.16H-1Z M0.325,-0.45H1.425L0.875,0.5Z"]},"legend":{"orient":"top-right","title":null,"labelExpr":"indexof(datum.value,'1')>0?'Ranking loss w/in DFCL':'Ranking loss w/o DFCL'"}}}}
]},
{"width":122,"height":101,"data":{"name":"rec"},"transform":[{"fold":["a1","a2"],"as":["k","v"]}],"title":{"text":"(a) MovieLens"},
"encoding":{"x":{"field":"x","type":"quantitative","scale":{"domain":[-5,105],"nice":false,"zero":false},"axis":{"values":[0,20,40,60,80,100],"labelExpr":"datum.value==0?'1':datum.label","title":"Epoch","titleFontSize":6.4,"titlePadding":1}},
"y":{"field":"v","type":"quantitative","scale":{"domain":[0.1149,0.2496],"nice":false,"zero":false},"axis":{"values":[0.12,0.14,0.16,0.18,0.20,0.22,0.24],"format":".2f","title":"Recall@20","titleFontSize":6,"titlePadding":2}}},
"layer":[
{"transform":[{"filter":"datum.k=='a1'"}],"mark":{"type":"line","color":"#ee1c25","strokeWidth":1.3,"clip":true}},
{"transform":[{"filter":"datum.k=='a1'"}],"mark":{"type":"point","shape":"cross","filled":true,"color":"#ee1c25","size":28,"opacity":1,"strokeWidth":0,"clip":true}},
{"transform":[{"filter":"datum.k=='a2'"}],"mark":{"type":"line","color":"#2f7fc1","strokeWidth":1.3,"clip":true}},
{"transform":[{"filter":"datum.k=='a2'"}],"mark":{"type":"point","shape":"triangle-down","filled":true,"color":"#2f7fc1","size":13,"opacity":1,"strokeWidth":0,"clip":true}},
{"transform":[{"filter":"false"}],"mark":{"type":"point","filled":true,"opacity":1},
"encoding":{"color":{"field":"k","type":"nominal","scale":{"domain":["a1","a2"],"range":["#ee1c25","#2f7fc1"]},"legend":{"orient":"bottom-right","title":null,"labelExpr":"indexof(datum.value,'1')>0?'Recall@20 w/in DFCL':'Recall@20 w/o DFCL'"}},
"shape":{"field":"k","type":"nominal","scale":{"domain":["a1","a2"],"range":["M-1,-0.16H2.75V0.16H-1Z M0.675,-0.6H1.075V-0.2H1.475V0.2H1.075V0.6H0.675V0.2H0.275V-0.2H0.675Z","M-1,-0.16H2.75V0.16H-1Z M0.325,-0.45H1.425L0.875,0.5Z"]},"legend":{"orient":"bottom-right","title":null,"labelExpr":"indexof(datum.value,'1')>0?'Recall@20 w/in DFCL':'Recall@20 w/o DFCL'"}}}}
]},
{"width":119,"height":101,"data":{"name":"rec"},"transform":[{"fold":["b1","b2"],"as":["k","v"]}],"title":{"text":"(b) Gowalla"},
"encoding":{"x":{"field":"x","type":"quantitative","scale":{"domain":[-5,105],"nice":false,"zero":false},"axis":{"values":[0,20,40,60,80,100],"labelExpr":"datum.value==0?'1':datum.label","title":"Epoch","titleFontSize":6.4,"titlePadding":1}},
"y":{"field":"v","type":"quantitative","scale":{"domain":[0.1085,0.1738],"nice":false,"zero":false},"axis":{"values":[0.11,0.12,0.13,0.14,0.15,0.16,0.17],"format":".2f","title":"Recall@20","titleFontSize":6,"titlePadding":2}}},
"layer":[
{"transform":[{"filter":"datum.k=='b1'"}],"mark":{"type":"line","color":"#ee1c25","strokeWidth":1.3,"clip":true}},
{"transform":[{"filter":"datum.k=='b1'"}],"mark":{"type":"point","shape":"cross","filled":true,"color":"#ee1c25","size":28,"opacity":1,"strokeWidth":0,"clip":true}},
{"transform":[{"filter":"datum.k=='b2'"}],"mark":{"type":"line","color":"#2f7fc1","strokeWidth":1.3,"clip":true}},
{"transform":[{"filter":"datum.k=='b2'"}],"mark":{"type":"point","shape":"triangle-down","filled":true,"color":"#2f7fc1","size":13,"opacity":1,"strokeWidth":0,"clip":true}},
{"transform":[{"filter":"false"}],"mark":{"type":"point","filled":true,"opacity":1},
"encoding":{"color":{"field":"k","type":"nominal","scale":{"domain":["b1","b2"],"range":["#ee1c25","#2f7fc1"]},"legend":{"orient":"bottom-right","title":null,"labelExpr":"indexof(datum.value,'1')>0?'Recall@20 w/in DFCL':'Recall@20 w/o DFCL'"}},
"shape":{"field":"k","type":"nominal","scale":{"domain":["b1","b2"],"range":["M-1,-0.16H2.75V0.16H-1Z M0.675,-0.6H1.075V-0.2H1.475V0.2H1.075V0.6H0.675V0.2H0.275V-0.2H0.675Z","M-1,-0.16H2.75V0.16H-1Z M0.325,-0.45H1.425L0.875,0.5Z"]},"legend":{"orient":"bottom-right","title":null,"labelExpr":"indexof(datum.value,'1')>0?'Recall@20 w/in DFCL':'Recall@20 w/o DFCL'"}}}}
]},
{"width":125,"height":101,"data":{"name":"rec"},"transform":[{"fold":["c1","c2"],"as":["k","v"]}],"title":{"text":"(c) Pinterest"},
"encoding":{"x":{"field":"x","type":"quantitative","scale":{"domain":[-5,105],"nice":false,"zero":false},"axis":{"values":[0,20,40,60,80,100],"labelExpr":"datum.value==0?'1':datum.label","title":"Epoch","titleFontSize":6.4,"titlePadding":1}},
"y":{"field":"v","type":"quantitative","scale":{"domain":[0.0758,0.1572],"nice":false,"zero":false},"axis":{"values":[0.08,0.09,0.10,0.11,0.12,0.13,0.14,0.15],"format":".2f","title":"Recall@20","titleFontSize":6,"titlePadding":2}}},
"layer":[
{"transform":[{"filter":"datum.k=='c1'"}],"mark":{"type":"line","color":"#ee1c25","strokeWidth":1.3,"clip":true}},
{"transform":[{"filter":"datum.k=='c1'"}],"mark":{"type":"point","shape":"cross","filled":true,"color":"#ee1c25","size":28,"opacity":1,"strokeWidth":0,"clip":true}},
{"transform":[{"filter":"datum.k=='c2'"}],"mark":{"type":"line","color":"#2f7fc1","strokeWidth":1.3,"clip":true}},
{"transform":[{"filter":"datum.k=='c2'"}],"mark":{"type":"point","shape":"triangle-down","filled":true,"color":"#2f7fc1","size":13,"opacity":1,"strokeWidth":0,"clip":true}},
{"transform":[{"filter":"false"}],"mark":{"type":"point","filled":true,"opacity":1},
"encoding":{"color":{"field":"k","type":"nominal","scale":{"domain":["c1","c2"],"range":["#ee1c25","#2f7fc1"]},"legend":{"orient":"bottom-right","title":null,"labelExpr":"indexof(datum.value,'1')>0?'Recall@20 w/in DFCL':'Recall@20 w/o DFCL'"}},
"shape":{"field":"k","type":"nominal","scale":{"domain":["c1","c2"],"range":["M-1,-0.16H2.75V0.16H-1Z M0.675,-0.6H1.075V-0.2H1.475V0.2H1.075V0.6H0.675V0.2H0.275V-0.2H0.675Z","M-1,-0.16H2.75V0.16H-1Z M0.325,-0.45H1.425L0.875,0.5Z"]},"legend":{"orient":"bottom-right","title":null,"labelExpr":"indexof(datum.value,'1')>0?'Recall@20 w/in DFCL':'Recall@20 w/o DFCL'"}}}}
]},
{"width":120,"height":101,"data":{"name":"rec"},"transform":[{"fold":["d1","d2"],"as":["k","v"]}],"title":{"text":"(d) Yelp2018"},
"encoding":{"x":{"field":"x","type":"quantitative","scale":{"domain":[-5,105],"nice":false,"zero":false},"axis":{"values":[0,20,40,60,80,100],"labelExpr":"datum.value==0?'1':datum.label","title":"Epoch","titleFontSize":6.4,"titlePadding":1}},
"y":{"field":"v","type":"quantitative","scale":{"domain":[0.0322,0.0608],"nice":false,"zero":false},"axis":{"values":[0.035,0.040,0.045,0.050,0.055,0.060],"format":".3f","title":"Recall@20","titleFontSize":6,"titlePadding":2}}},
"layer":[
{"transform":[{"filter":"datum.k=='d1'"}],"mark":{"type":"line","color":"#ee1c25","strokeWidth":1.3,"clip":true}},
{"transform":[{"filter":"datum.k=='d1'"}],"mark":{"type":"point","shape":"cross","filled":true,"color":"#ee1c25","size":28,"opacity":1,"strokeWidth":0,"clip":true}},
{"transform":[{"filter":"datum.k=='d2'"}],"mark":{"type":"line","color":"#2f7fc1","strokeWidth":1.3,"clip":true}},
{"transform":[{"filter":"datum.k=='d2'"}],"mark":{"type":"point","shape":"triangle-down","filled":true,"color":"#2f7fc1","size":13,"opacity":1,"strokeWidth":0,"clip":true}},
{"transform":[{"filter":"false"}],"mark":{"type":"point","filled":true,"opacity":1},
"encoding":{"color":{"field":"k","type":"nominal","scale":{"domain":["d1","d2"],"range":["#ee1c25","#2f7fc1"]},"legend":{"orient":"bottom-right","title":null,"labelExpr":"indexof(datum.value,'1')>0?'Recall@20 w/in DFCL':'Recall@20 w/o DFCL'"}},
"shape":{"field":"k","type":"nominal","scale":{"domain":["d1","d2"],"range":["M-1,-0.16H2.75V0.16H-1Z M0.675,-0.6H1.075V-0.2H1.475V0.2H1.075V0.6H0.675V0.2H0.275V-0.2H0.675Z","M-1,-0.16H2.75V0.16H-1Z M0.325,-0.45H1.425L0.875,0.5Z"]},"legend":{"orient":"bottom-right","title":null,"labelExpr":"indexof(datum.value,'1')>0?'Recall@20 w/in DFCL':'Recall@20 w/o DFCL'"}}}}
]},
{"width":123,"height":101,"data":{"name":"rec"},"transform":[{"fold":["e1","e2"],"as":["k","v"]}],"title":{"text":"(e) AMZ-Book"},
"encoding":{"x":{"field":"x","type":"quantitative","scale":{"domain":[-5,105],"nice":false,"zero":false},"axis":{"values":[0,20,40,60,80,100],"labelExpr":"datum.value==0?'1':datum.label","title":"Epoch","titleFontSize":6.4,"titlePadding":1}},
"y":{"field":"v","type":"quantitative","scale":{"domain":[0.01546,0.03834],"nice":false,"zero":false},"axis":{"values":[0.020,0.025,0.030,0.035],"format":".3f","title":"Recall@20","titleFontSize":6,"titlePadding":2}}},
"layer":[
{"transform":[{"filter":"datum.k=='e1'"}],"mark":{"type":"line","color":"#ee1c25","strokeWidth":1.3,"clip":true}},
{"transform":[{"filter":"datum.k=='e1'"}],"mark":{"type":"point","shape":"cross","filled":true,"color":"#ee1c25","size":28,"opacity":1,"strokeWidth":0,"clip":true}},
{"transform":[{"filter":"datum.k=='e2'"}],"mark":{"type":"line","color":"#2f7fc1","strokeWidth":1.3,"clip":true}},
{"transform":[{"filter":"datum.k=='e2'"}],"mark":{"type":"point","shape":"triangle-down","filled":true,"color":"#2f7fc1","size":13,"opacity":1,"strokeWidth":0,"clip":true}},
{"transform":[{"filter":"false"}],"mark":{"type":"point","filled":true,"opacity":1},
"encoding":{"color":{"field":"k","type":"nominal","scale":{"domain":["e1","e2"],"range":["#ee1c25","#2f7fc1"]},"legend":{"orient":"bottom-right","title":null,"labelExpr":"indexof(datum.value,'1')>0?'Recall@20 w/in DFCL':'Recall@20 w/o DFCL'"}},
"shape":{"field":"k","type":"nominal","scale":{"domain":["e1","e2"],"range":["M-1,-0.16H2.75V0.16H-1Z M0.675,-0.6H1.075V-0.2H1.475V0.2H1.075V0.6H0.675V0.2H0.275V-0.2H0.675Z","M-1,-0.16H2.75V0.16H-1Z M0.325,-0.45H1.425L0.875,0.5Z"]},"legend":{"orient":"bottom-right","title":null,"labelExpr":"indexof(datum.value,'1')>0?'Recall@20 w/in DFCL':'Recall@20 w/o DFCL'"}}}}
]},
{"width":122,"height":101,"data":{"name":"drec"},"transform":[{"fold":["f1","f2"],"as":["k","v"]}],"title":{"text":"(f) Dianping"},
"encoding":{"x":{"field":"x","type":"quantitative","scale":{"domain":[-0.8,20.6],"nice":false,"zero":false},"axis":{"values":[0,4,8,12,16,20],"labelExpr":"datum.value==0?'1':datum.label","title":"Epoch","titleFontSize":6.4,"titlePadding":1}},
"y":{"field":"v","type":"quantitative","scale":{"domain":[0.0205,0.1258],"nice":false,"zero":false},"axis":{"values":[0.04,0.06,0.08,0.10,0.12],"format":".2f","title":"Recall@20","titleFontSize":6,"titlePadding":2}}},
"layer":[
{"transform":[{"filter":"datum.k=='f1'"}],"mark":{"type":"line","color":"#ee1c25","strokeWidth":1.3,"clip":true}},
{"transform":[{"filter":"datum.k=='f1'"}],"mark":{"type":"point","shape":"cross","filled":true,"color":"#ee1c25","size":28,"opacity":1,"strokeWidth":0,"clip":true}},
{"transform":[{"filter":"datum.k=='f2'"}],"mark":{"type":"line","color":"#2f7fc1","strokeWidth":1.3,"clip":true}},
{"transform":[{"filter":"datum.k=='f2'"}],"mark":{"type":"point","shape":"triangle-down","filled":true,"color":"#2f7fc1","size":13,"opacity":1,"strokeWidth":0,"clip":true}},
{"transform":[{"filter":"false"}],"mark":{"type":"point","filled":true,"opacity":1},
"encoding":{"color":{"field":"k","type":"nominal","scale":{"domain":["f1","f2"],"range":["#ee1c25","#2f7fc1"]},"legend":{"orient":"bottom-right","title":null,"labelExpr":"indexof(datum.value,'1')>0?'Recall@20 w/in DFCL':'Recall@20 w/o DFCL'"}},
"shape":{"field":"k","type":"nominal","scale":{"domain":["f1","f2"],"range":["M-1,-0.16H2.75V0.16H-1Z M0.675,-0.6H1.075V-0.2H1.475V0.2H1.075V0.6H0.675V0.2H0.275V-0.2H0.675Z","M-1,-0.16H2.75V0.16H-1Z M0.325,-0.45H1.425L0.875,0.5Z"]},"legend":{"orient":"bottom-right","title":null,"labelExpr":"indexof(datum.value,'1')>0?'Recall@20 w/in DFCL':'Recall@20 w/o DFCL'"}}}}
]}
]
}
